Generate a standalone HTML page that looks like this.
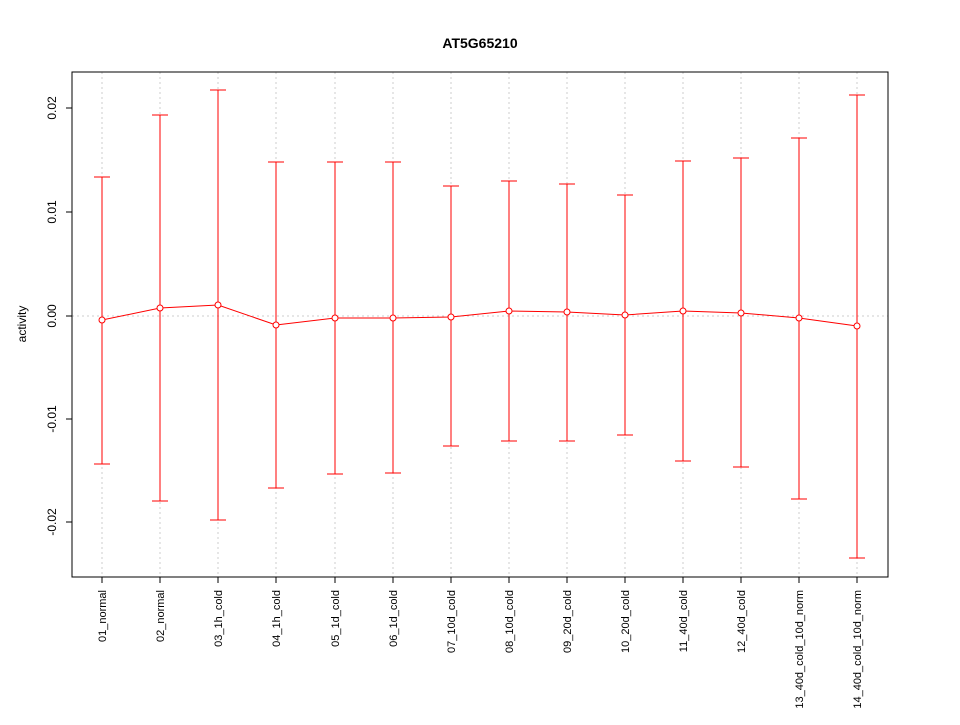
<!DOCTYPE html>
<html><head><meta charset="utf-8"><style>body{margin:0;background:#fff}</style></head><body>
<svg width="960" height="720" xmlns="http://www.w3.org/2000/svg" font-family="Liberation Sans, Arial, sans-serif">
<rect width="960" height="720" fill="#fff"/>
<text x="480" y="48" text-anchor="middle" font-size="14" font-weight="bold">AT5G65210</text>
<g stroke="#ccc" stroke-dasharray="2,3" stroke-width="1">
<line x1="102" y1="72" x2="102" y2="577"/><line x1="160" y1="72" x2="160" y2="577"/><line x1="218" y1="72" x2="218" y2="577"/><line x1="276" y1="72" x2="276" y2="577"/><line x1="335" y1="72" x2="335" y2="577"/><line x1="393" y1="72" x2="393" y2="577"/><line x1="451" y1="72" x2="451" y2="577"/><line x1="509" y1="72" x2="509" y2="577"/><line x1="567" y1="72" x2="567" y2="577"/><line x1="625" y1="72" x2="625" y2="577"/><line x1="683" y1="72" x2="683" y2="577"/><line x1="741" y1="72" x2="741" y2="577"/><line x1="799" y1="72" x2="799" y2="577"/><line x1="857" y1="72" x2="857" y2="577"/>
<line x1="72" y1="316" x2="888" y2="316"/>
</g>
<g stroke="red" stroke-width="1" fill="none">
<polyline points="102,320 160,308 218,305 276,325 335,318 393,318 451,317 509,311 567,312 625,315 683,311 741,313 799,318 857,326"/>
<path d="M102 177V464M94 177H110M94 464H110
M160 115V501M152 115H168M152 501H168
M218 90V520M210 90H226M210 520H226
M276 162V488M268 162H284M268 488H284
M335 162V474M327 162H343M327 474H343
M393 162V473M385 162H401M385 473H401
M451 186V446M443 186H459M443 446H459
M509 181V441M501 181H517M501 441H517
M567 184V441M559 184H575M559 441H575
M625 195V435M617 195H633M617 435H633
M683 161V461M675 161H691M675 461H691
M741 158V467M733 158H749M733 467H749
M799 138V499M791 138H807M791 499H807
M857 95V558M849 95H865M849 558H865"/>
<g fill="#fff">
<circle cx="102" cy="320" r="3"/><circle cx="160" cy="308" r="3"/><circle cx="218" cy="305" r="3"/><circle cx="276" cy="325" r="3"/><circle cx="335" cy="318" r="3"/><circle cx="393" cy="318" r="3"/><circle cx="451" cy="317" r="3"/><circle cx="509" cy="311" r="3"/><circle cx="567" cy="312" r="3"/><circle cx="625" cy="315" r="3"/><circle cx="683" cy="311" r="3"/><circle cx="741" cy="313" r="3"/><circle cx="799" cy="318" r="3"/><circle cx="857" cy="326" r="3"/>
</g>
</g>
<rect x="72" y="72" width="816" height="505" fill="none" stroke="#000"/>
<g stroke="#000">
<line x1="72" y1="108" x2="66" y2="108"/><line x1="72" y1="212" x2="66" y2="212"/><line x1="72" y1="316" x2="66" y2="316"/><line x1="72" y1="419" x2="66" y2="419"/><line x1="72" y1="522" x2="66" y2="522"/>
<path d="M102 577V583M160 577V583M218 577V583M276 577V583M335 577V583M393 577V583M451 577V583M509 577V583M567 577V583M625 577V583M683 577V583M741 577V583M799 577V583M857 577V583"/>
</g>
<g font-size="12" text-anchor="middle">
<text transform="translate(56,108) rotate(-90)">0.02</text>
<text transform="translate(56,212) rotate(-90)">0.01</text>
<text transform="translate(56,316) rotate(-90)">0.00</text>
<text transform="translate(56,419) rotate(-90)">-0.01</text>
<text transform="translate(56,522) rotate(-90)">-0.02</text>
<text transform="translate(26,324) rotate(-90)">activity</text>
</g>
<g font-size="11" text-anchor="end">
<text transform="translate(106,590) rotate(-90)">01_normal</text>
<text transform="translate(164,590) rotate(-90)">02_normal</text>
<text transform="translate(222,590) rotate(-90)">03_1h_cold</text>
<text transform="translate(280,590) rotate(-90)">04_1h_cold</text>
<text transform="translate(339,590) rotate(-90)">05_1d_cold</text>
<text transform="translate(397,590) rotate(-90)">06_1d_cold</text>
<text transform="translate(455,590) rotate(-90)">07_10d_cold</text>
<text transform="translate(513,590) rotate(-90)">08_10d_cold</text>
<text transform="translate(571,590) rotate(-90)">09_20d_cold</text>
<text transform="translate(629,590) rotate(-90)">10_20d_cold</text>
<text transform="translate(687,590) rotate(-90)">11_40d_cold</text>
<text transform="translate(745,590) rotate(-90)">12_40d_cold</text>
<text transform="translate(803,590) rotate(-90)">13_40d_cold_10d_norm</text>
<text transform="translate(861,590) rotate(-90)">14_40d_cold_10d_norm</text>
</g>
</svg>
</body></html>
